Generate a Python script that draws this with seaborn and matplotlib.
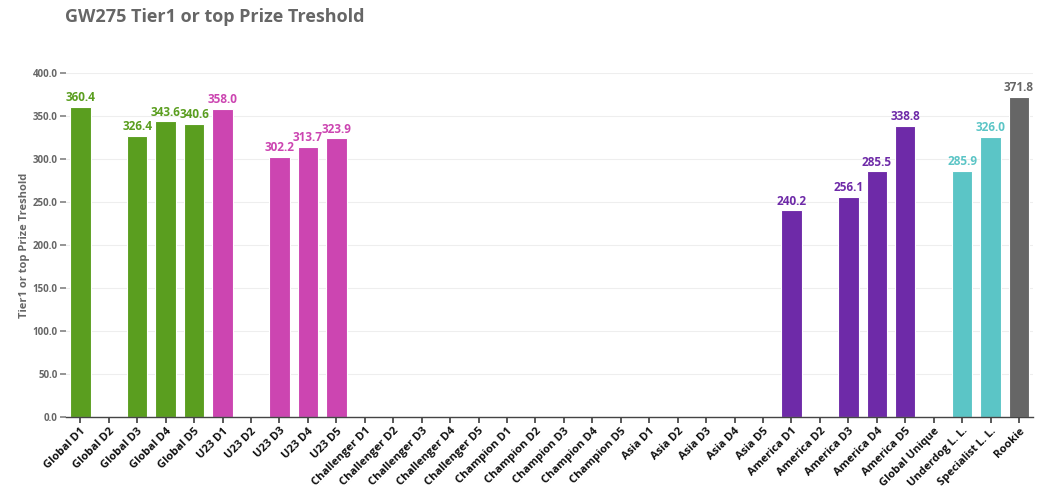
import numpy as np
import pandas as pd
import matplotlib
matplotlib.use("Agg")
import matplotlib.pyplot as plt
import seaborn as sns

categories = ["Global D1", "Global D2", "Global D3", "Global D4", "Global D5",
              "U23 D1", "U23 D2", "U23 D3", "U23 D4", "U23 D5",
              "Challenger D1", "Challenger D2", "Challenger D3", "Challenger D4", "Challenger D5",
              "Champion D1", "Champion D2", "Champion D3", "Champion D4", "Champion D5",
              "Asia D1", "Asia D2", "Asia D3", "Asia D4", "Asia D5",
              "America D1", "America D2", "America D3", "America D4", "America D5",
              "Global Unique", "Underdog L. L.", "Specialist L. L.", "Rookie"]
nan = np.nan
values = [360.4, nan, 326.4, 343.6, 340.6,
          358.0, nan, 302.2, 313.7, 323.9,
          nan, nan, nan, nan, nan,
          nan, nan, nan, nan, nan,
          nan, nan, nan, nan, nan,
          240.2, nan, 256.1, 285.5, 338.8,
          nan, 285.9, 326.0, 371.8]
groups = (["Global"] * 5 + ["U23"] * 5 + ["Challenger"] * 5 + ["Champion"] * 5 +
          ["Asia"] * 5 + ["America"] * 5 + ["Global Unique", "Underdog", "Specialist", "Rookie"])
palette = {"Global": "#5a9e1f", "U23": "#cc45b1", "Challenger": "#999999", "Champion": "#999999",
           "Asia": "#999999", "America": "#6e2aa8", "Global Unique": "#999999",
           "Underdog": "#5bc5c6", "Specialist": "#5bc5c6", "Rookie": "#666666"}
yticks = [0, 50, 100, 150, 200, 250, 300, 350, 400]

sns.set_theme(style="white")
plt.rcParams['font.family'] = ['Open Sans', 'DejaVu Sans']

df = pd.DataFrame({"cat": categories, "val": values, "grp": groups})

fig = plt.figure(figsize=(10.5, 4.92), dpi=100)
ax = fig.add_axes([0.063, 0.152, 0.921, 0.700])
sns.barplot(data=df, x="cat", y="val", hue="grp", palette=palette, dodge=False, saturation=1,
            width=0.72, edgecolor="white", linewidth=0.8, legend=False, ax=ax, order=categories)

for cont in ax.containers:
    col = cont.patches[0].get_facecolor() if len(cont.patches) else "#555"
    labels = ["" if np.isnan(h) or h == 0 else f"{h:.1f}" for h in cont.datavalues]
    ax.bar_label(cont, labels=labels, padding=2, color=col, fontsize=8.5, fontweight="bold")

ax.set_ylim(0, 400)
ax.set_xlim(-0.5, len(categories) - 0.5)
ax.set_yticks(yticks)
ax.set_yticklabels([f"{t:.1f}" for t in yticks], fontsize=7, color="#666666", fontweight="bold")
ax.yaxis.grid(True, color="#eeeeee", linewidth=0.8)
ax.set_axisbelow(True)
ax.tick_params(axis="y", length=4, color="#888888", left=True, pad=2)
ax.tick_params(axis="x", length=4, color="#444444", bottom=True, pad=2)
plt.setp(ax.get_xticklabels(), rotation=45, ha="right", rotation_mode="anchor",
         fontsize=8, fontweight="bold", color="#111111")
for s in ["top", "right", "left"]:
    ax.spines[s].set_visible(False)
ax.spines["bottom"].set_color("#444444")
ax.spines["bottom"].set_linewidth(1)
ax.set_xlabel("")
ax.set_ylabel("Tier1 or top Prize Treshold", fontsize=8, fontweight="bold", color="#666666", labelpad=2)

fig.text(0.062, 0.965, "GW275 Tier1 or top Prize Treshold", fontsize=13, fontweight="bold",
         color="#666666", va="center", ha="left")

fig.savefig("out.png", dpi=100)
